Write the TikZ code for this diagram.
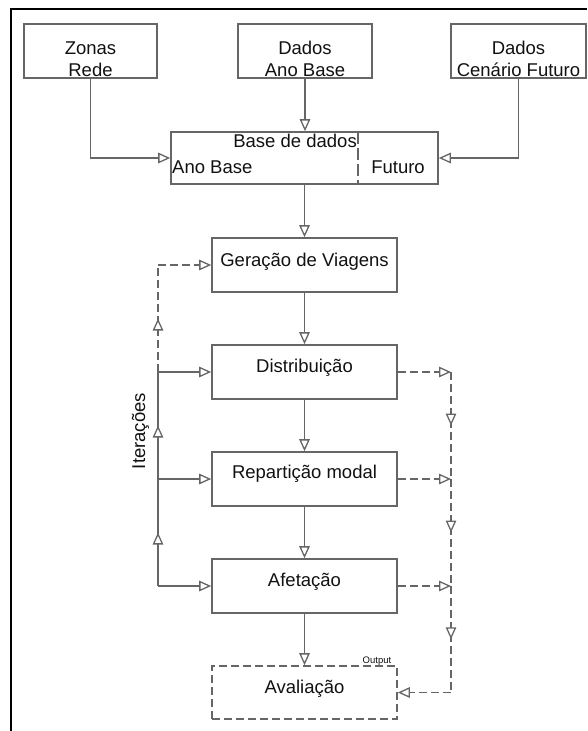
\documentclass[tikz,border=0pt]{standalone}
\usepackage{fontspec}
\setmainfont{Liberation Sans}
\usetikzlibrary{arrows.meta,decorations.markings}
\definecolor{linegray}{HTML}{666666}
\definecolor{inkblack}{HTML}{111111}

\begin{document}
\begin{tikzpicture}[x=1pt,y=-1pt,
  tri/.tip={Triangle[length=12pt,width=10.5pt,line width=1.3pt,fill=white]},
  box/.style={draw=linegray,line width=1.6pt,rectangle,inner sep=0pt},
  dbox/.style={box,dash pattern=on 8pt off 4pt},
  txt/.style={inner sep=0pt,anchor=base,text=inkblack,font=\fontsize{18.5}{22}\selectfont},
  small/.style={inner sep=0pt,anchor=base,text=inkblack,font=\fontsize{9.5}{11}\selectfont},
  cline/.style={draw=linegray,line width=1.6pt},
  dline/.style={cline,dash pattern=on 8pt off 4pt},
  midtri/.style={postaction={decorate},
    decoration={markings,mark=at position 0.5 with {\arrow{tri}}}}
]
\useasboundingbox (0,0) rectangle (587,731);

% outer frame (top and left edges)
\draw[line width=2pt,black] (11,731) -- (11,9) -- (587,9);

% input boxes
\node[box,minimum width=133pt,minimum height=54pt] (zonas)   at (90.5,51) {};
\node[box,minimum width=134pt,minimum height=54pt] (dadosab) at (305,51) {};
\node[box,minimum width=135pt,minimum height=54pt] (dadoscf) at (518.5,51) {};
\node[txt] (tzonas1) at (90.5,54) {Zonas};
\node[txt] (tzonas2) at (90.5,76) {Rede};
\node[txt] (tdab1) at (305,54) {Dados};
\node[txt] (tdab2) at (305,76) {Ano Base};
\node[txt] (tdcf1) at (518.5,54) {Dados};
\node[txt] (tdcf2) at (518.5,76) {Cenário Futuro};

% database box
\node[box,minimum width=267pt,minimum height=52pt] (base) at (304.5,158) {};
\coordinate (divtop) at (358,132);
\coordinate (divbot) at (358,184);
\draw[cline,dash pattern=on 12pt off 4pt] (divtop) -- (divbot);
\node[txt,anchor=base east] (tbase) at (357,147) {Base de dados};
\node[txt,anchor=base west] (tanob) at (172,173) {Ano Base};
\node[txt] (tfut) at (398,173) {Futuro};

% model steps
\node[box,minimum width=185pt,minimum height=54pt] (gera) at (304.5,265) {};
\node[box,minimum width=185pt,minimum height=54pt] (dist) at (304.5,372) {};
\node[box,minimum width=185pt,minimum height=54pt] (rep)  at (304.5,479) {};
\node[box,minimum width=185pt,minimum height=54pt] (afet) at (304.5,586) {};
\node[dbox,minimum width=185pt,minimum height=53pt] (aval) at (304.5,692.5) {};
\node[txt] (tgera) at (304.5,266) {Geração de Viagens};
\node[txt] (tdist) at (304.5,372) {Distribuição};
\node[txt] (trep)  at (304.5,478) {Repartição modal};
\node[txt] (tafet) at (304.5,586) {Afetação};
\node[txt] (taval) at (304.5,693) {Avaliação};
\node[small] (tout) at (377,663) {Output};

% inputs into the database
\draw[cline,-tri] (zonas.south) |- (base.west);
\draw[cline,-tri] (dadosab.south) -- (dadosab.south |- base.north);
\draw[cline,-tri] (dadoscf.south) |- (base.east);

% main chain
\draw[cline,-tri] (base.south) -- (gera.north);
\draw[cline,-tri] (gera.south) -- (dist.north);
\draw[cline,-tri] (dist.south) -- (rep.north);
\draw[cline,-tri] (rep.south) -- (afet.north);
\draw[cline,-tri] (afet.south) -- (aval.north);

% iteration loop on the left
\coordinate (itx) at (158,0);
\coordinate (it1) at (gera.west -| itx);
\coordinate (it2) at (dist.west -| itx);
\coordinate (it3) at (rep.west -| itx);
\coordinate (it4) at (afet.west -| itx);
\draw[dline,midtri] (it2) -- (it1);
\draw[dline,-tri] (it1) -- (gera.west);
\draw[cline,midtri] (it3) -- (it2);
\draw[cline,midtri] (it4) -- (it3);
\draw[cline,-tri] (it2) -- (dist.west);
\draw[cline,-tri] (it3) -- (rep.west);
\draw[cline,-tri] (it4) -- (afet.west);
\node[txt,rotate=90] (titer) at (145,431) {Iterações};

% output collector on the right
\coordinate (rx) at (451,0);
\coordinate (r1) at (dist.east -| rx);
\coordinate (r2) at (rep.east -| rx);
\coordinate (r3) at (afet.east -| rx);
\coordinate (r4) at (aval.east -| rx);
\draw[dline,-tri] (dist.east) -- (r1);
\draw[dline,-tri] (rep.east) -- (r2);
\draw[dline,-tri] (afet.east) -- (r3);
\draw[dline,midtri] (r1) -- (r2);
\draw[dline,midtri] (r2) -- (r3);
\draw[dline,midtri] (r3) -- (r4);
\draw[dline,-tri] (r4) -- (aval.east);
\end{tikzpicture}
\end{document}
